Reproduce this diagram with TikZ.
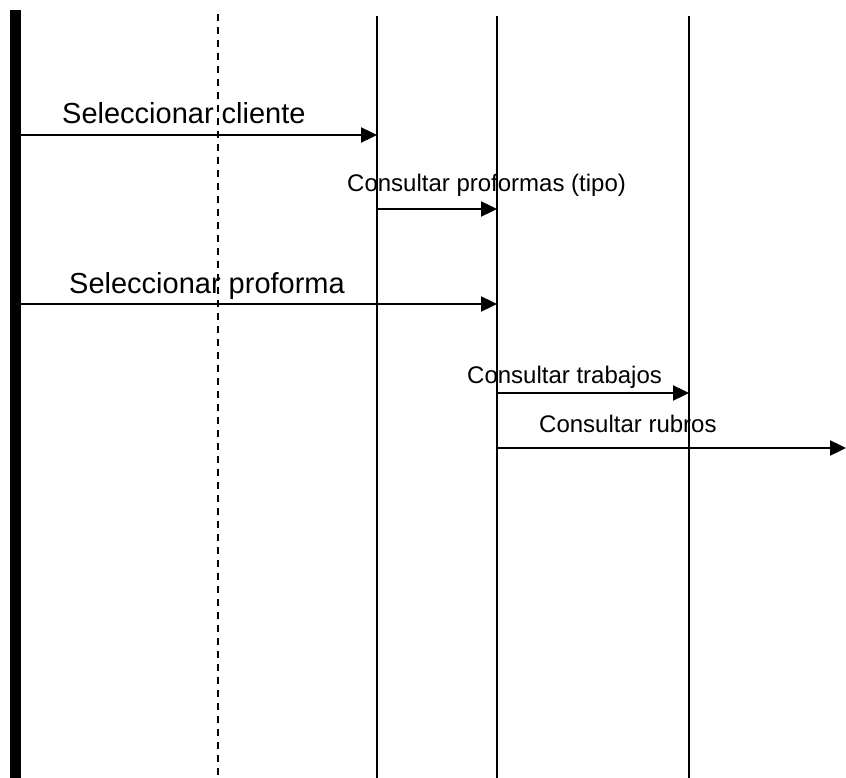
\documentclass[tikz,border=0pt]{standalone}
\usepackage{fontspec}
\setmainfont{Liberation Sans}
\usetikzlibrary{arrows.meta,positioning}
\tikzset{
  actor bar/.style  = {line width=11pt},
  lifeline/.style   = {line width=1.6pt},
  boundary/.style   = {line width=1.6pt, dash pattern=on 7pt off 6pt},
  msg/.style        = {-{Triangle[length=16pt,width=15pt]}, line width=2.4pt},
  biglabel/.style   = {font=\fontsize{29}{34}\selectfont, inner sep=0pt, anchor=base west},
  smalllabel/.style = {font=\fontsize{24}{28}\selectfont, inner sep=0pt, anchor=base west},
}

\begin{document}
\begin{tikzpicture}[x=1pt,y=-1pt]
  \useasboundingbox (0,0) rectangle (846,778);

  % lifelines
  \coordinate (act) at (15.5,10);
  \coordinate (ui) at (218,14);
  \coordinate (ctrl) at (377,16);
  \coordinate (prof) at (497,16);
  \coordinate (trab) at (689,16);
  \coordinate (bot) at (0,778);

  % labels
  \node[biglabel] (l1) at (62,124) {Seleccionar cliente};
  \node[smalllabel] (l2) at (347,192) {Consultar proformas (tipo)};
  \node[biglabel] (l3) at (69,293) {Seleccionar proforma};
  \node[smalllabel] (l4) at (467,383) {Consultar trabajos};
  \node[smalllabel] (l5) at (539,432) {Consultar rubros};

  \draw[actor bar] (act) -- (act |- bot);
  \draw[boundary] (ui) -- (ui |- bot);
  \draw[lifeline] (ctrl) -- (ctrl |- bot);
  \draw[lifeline] (prof) -- (prof |- bot);
  \draw[lifeline] (trab) -- (trab |- bot);

  % messages
  \coordinate (m1) at (0,135);
  \coordinate (m2) at (0,209);
  \coordinate (m3) at (0,304);
  \coordinate (m4) at (0,393);
  \coordinate (m5) at (0,448);
  \coordinate (rub) at (846,448);
  \draw[msg] (act |- m1) -- (ctrl |- m1);
  \draw[msg] (ctrl |- m2) -- (prof |- m2);
  \draw[msg] (act |- m3) -- (prof |- m3);
  \draw[msg] (prof |- m4) -- (trab |- m4);
  \draw[msg] (prof |- m5) -- (rub);
\end{tikzpicture}
\end{document}
